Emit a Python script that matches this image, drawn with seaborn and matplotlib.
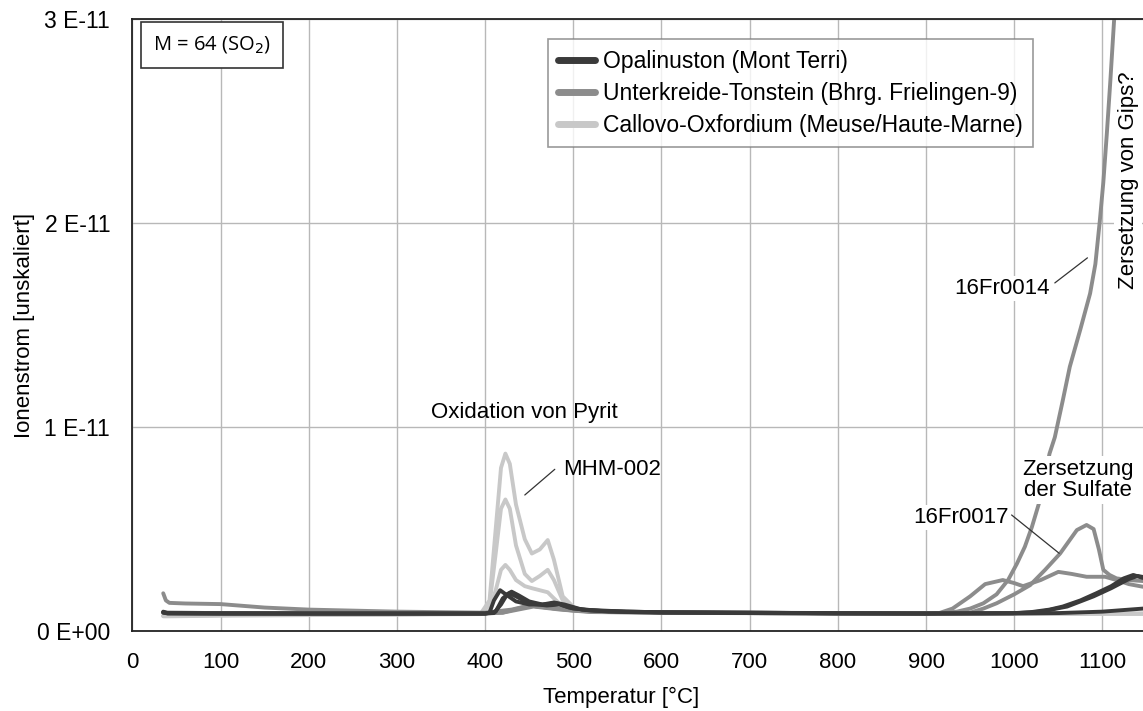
import numpy as np
import pandas as pd
import matplotlib
matplotlib.use("Agg")
import matplotlib.pyplot as plt
from matplotlib.lines import Line2D
import seaborn as sns

# ---------------- data (signal in units of 1E-12) ----------------
# Opalinuston (Mont Terri)
opa1_T = [35, 40, 100, 200, 300, 400, 405, 410, 417, 425, 435, 450, 465, 481, 495, 520, 560, 600, 700, 800, 900, 1000, 1050, 1100, 1146]
opa1_I = [0.95, 0.88, 0.87, 0.86, 0.86, 0.86, 0.9, 1.5, 2.0, 1.75, 1.45, 1.3, 1.3, 1.36, 1.15, 1.0, 0.95, 0.92, 0.9, 0.87, 0.86, 0.86, 0.88, 0.95, 1.1]
opa2_T = [35, 40, 100, 200, 300, 400, 410, 418, 425, 430, 438, 450, 465, 478, 490, 510, 560, 600, 700, 800, 900, 1000, 1018, 1040, 1055, 1075, 1093, 1110, 1124, 1135, 1146]
opa2_I = [0.92, 0.87, 0.86, 0.86, 0.86, 0.86, 0.88, 1.3, 1.8, 1.93, 1.75, 1.45, 1.3, 1.4, 1.3, 1.05, 0.95, 0.92, 0.9, 0.87, 0.86, 0.88, 0.92, 1.05, 1.2, 1.5, 1.85, 2.2, 2.58, 2.75, 2.6]
opa3_T = [35, 40, 100, 200, 300, 400, 412, 420, 427, 435, 450, 470, 485, 500, 540, 600, 700, 800, 900, 1000, 1030, 1060, 1090, 1110, 1130, 1140, 1146]
opa3_I = [0.9, 0.86, 0.85, 0.85, 0.85, 0.85, 0.95, 1.6, 1.85, 1.7, 1.35, 1.25, 1.3, 1.1, 0.95, 0.9, 0.88, 0.86, 0.85, 0.87, 0.95, 1.2, 1.7, 2.1, 2.55, 2.7, 2.65]

# Unterkreide-Tonstein (Bhrg. Frielingen-9)
ukt14_T = [35, 38, 42, 60, 100, 150, 200, 300, 400, 430, 450, 470, 500, 600, 700, 800, 900, 915, 935, 950, 965, 980, 993, 1003, 1012, 1020, 1029, 1040, 1046, 1055, 1063, 1075, 1086, 1092, 1097, 1101, 1105, 1109, 1114]
ukt14_I = [1.85, 1.5, 1.38, 1.35, 1.32, 1.15, 1.05, 0.95, 0.9, 1.05, 1.25, 1.15, 1.0, 0.92, 0.9, 0.88, 0.87, 0.88, 0.95, 1.1, 1.36, 1.8, 2.5, 3.3, 4.13, 5.1, 6.4, 8.7, 9.5, 11.3, 12.96, 14.8, 16.55, 18.0, 20.1, 22.0, 24.4, 27.0, 30.5]
ukt17_T = [35, 100, 200, 300, 400, 420, 450, 480, 520, 600, 700, 800, 900, 940, 950, 965, 980, 1000, 1018, 1035, 1052, 1071, 1082, 1090, 1096, 1101, 1108, 1116, 1130, 1146]
ukt17_I = [0.9, 0.88, 0.87, 0.87, 0.87, 0.9, 1.25, 1.1, 0.95, 0.9, 0.88, 0.87, 0.87, 0.88, 0.9, 1.1, 1.36, 1.8, 2.25, 3.0, 3.8, 4.95, 5.2, 5.0, 4.0, 3.0, 2.75, 2.58, 2.5, 2.45]
ukt3_T = [35, 100, 200, 300, 400, 420, 455, 485, 520, 600, 700, 800, 900, 915, 930, 950, 967, 987, 1000, 1010, 1030, 1050, 1065, 1082, 1103, 1116, 1130, 1146]
ukt3_I = [0.9, 0.88, 0.87, 0.87, 0.87, 0.9, 1.2, 1.05, 0.93, 0.9, 0.88, 0.87, 0.87, 0.88, 1.1, 1.7, 2.3, 2.5, 2.35, 2.2, 2.5, 2.9, 2.8, 2.66, 2.66, 2.5, 2.3, 2.17]

# Callovo-Oxfordium (Meuse/Haute-Marne)
cox_T = [35, 40, 100, 200, 300, 395, 405, 412, 418, 423, 428, 435, 445, 453, 462, 471, 478, 488, 502, 520, 550, 600, 700, 800, 900, 1000, 1100, 1146]
cox1_I = [0.75, 0.75, 0.78, 0.8, 0.82, 0.85, 1.5, 5.0, 8.0, 8.7, 8.2, 6.2, 4.5, 3.8, 4.0, 4.46, 3.5, 1.7, 1.1, 1.0, 0.95, 0.92, 0.88, 0.85, 0.85, 0.85, 0.85, 0.85]
cox2_I = [0.75, 0.75, 0.78, 0.8, 0.82, 0.85, 1.3, 3.8, 6.0, 6.45, 6.0, 4.2, 2.8, 2.45, 2.7, 3.0, 2.5, 1.5, 1.05, 0.98, 0.94, 0.92, 0.88, 0.85, 0.85, 0.85, 0.85, 0.85]
cox3_I = [0.72, 0.72, 0.75, 0.78, 0.8, 0.83, 1.0, 2.0, 3.0, 3.24, 3.0, 2.5, 2.2, 2.1, 2.0, 1.9, 1.6, 1.2, 1.0, 0.95, 0.92, 0.9, 0.87, 0.85, 0.85, 0.85, 0.85, 0.85]

groups = ["Opalinuston (Mont Terri)",
          "Unterkreide-Tonstein (Bhrg. Frielingen-9)",
          "Callovo-Oxfordium (Meuse/Haute-Marne)"]
group_colors = ["#3a3a3a", "#8c8c8c", "#c8c8c8"]

x_ticks = [0, 100, 200, 300, 400, 500, 600, 700, 800, 900, 1000, 1100]
y_ticks = [0, 1e-11, 2e-11, 3e-11]
y_ticklabels = ["0 E+00", "1 E-11", "2 E-11", "3 E-11"]

samples = [
    (groups[0], "opa1", opa1_T, opa1_I),
    (groups[0], "opa2", opa2_T, opa2_I),
    (groups[0], "opa3", opa3_T, opa3_I),
    (groups[1], "16Fr0014", ukt14_T, ukt14_I),
    (groups[1], "16Fr0017", ukt17_T, ukt17_I),
    (groups[1], "ukt3", ukt3_T, ukt3_I),
    (groups[2], "MHM-002", cox_T, cox1_I),
    (groups[2], "cox2", cox_T, cox2_I),
    (groups[2], "cox3", cox_T, cox3_I),
]
rows = []
for g, s, T, I in samples:
    for t, v in zip(T, I):
        rows.append({"group": g, "sample": s, "T": t, "I": v * 1e-12})
df = pd.DataFrame(rows)

# ---------------- plot ----------------
sns.set_style("white")
plt.rcParams["font.family"] = ["Liberation Sans", "DejaVu Sans"]
plt.rcParams["text.color"] = "black"
plt.rcParams["axes.labelcolor"] = "black"
plt.rcParams["xtick.color"] = "black"
plt.rcParams["ytick.color"] = "black"

fig = plt.figure(figsize=(11.43, 7.11), dpi=100)
ax = fig.add_axes([0.1158, 0.1125, 0.8842, 0.8604])

for g, c in reversed(list(zip(groups, group_colors))):
    sns.lineplot(data=df[df["group"] == g], x="T", y="I", units="sample",
                 estimator=None, color=c, lw=2.8, ax=ax, legend=False,
                 solid_joinstyle="round", solid_capstyle="round")

ax.set_xlim(0, 1146)
ax.set_ylim(0, 3e-11)
ax.set_xticks(x_ticks)
ax.set_xticklabels([str(v) for v in x_ticks])
ax.set_yticks(y_ticks)
ax.set_yticklabels(y_ticklabels)
ax.grid(True, color="#b8b8b8", lw=1.0)
ax.set_axisbelow(True)
for side in ["left", "bottom", "top"]:
    ax.spines[side].set_color("#222222")
    ax.spines[side].set_linewidth(1.3)
ax.spines["right"].set_visible(False)
ax.tick_params(axis="both", direction="out", length=5, width=1, color="#555555")
ax.tick_params(axis="x", pad=10, labelsize=16)
ax.tick_params(axis="y", pad=11, labelsize=16.5)
ax.set_xlabel("Temperatur [°C]", fontsize=16)
ax.set_ylabel("Ionenstrom [unskaliert]", fontsize=16)
ax.xaxis.set_label_coords(0.4835, -0.092)
ax.yaxis.set_label_coords(-0.0965, 0.5)

# legend
handles = [Line2D([0], [0], color=c, lw=5, solid_capstyle="round") for c in group_colors]
leg = ax.legend(handles, groups, loc="upper left", bbox_to_anchor=(0.4113, 0.967),
                fontsize=16.5, frameon=True, fancybox=False, handlelength=1.6,
                handletextpad=0.35, labelspacing=0.4, borderpad=0.45, borderaxespad=0)
leg.get_frame().set_edgecolor("#808080")
leg.get_frame().set_linewidth(1.2)

# formula box
ax.text(0.0202, 0.958, "M = 64 (SO$_2$)", transform=ax.transAxes, fontsize=14.5,
        family="Open Sans", va="center", ha="left",
        bbox=dict(boxstyle="square,pad=0.6", fc="white", ec="#333333", lw=1.2))

# annotations
fs = 16
ax.text(445, 10.7e-12, "Oxidation von Pyrit", fontsize=fs, ha="center", va="center")
ax.text(488, 7.9e-12, "MHM-002", fontsize=fs, ha="left", va="center")
ax.plot([479, 445], [7.93e-12, 6.67e-12], color="#333333", lw=0.9)

ax.text(1040, 16.8e-12, "16Fr0014", fontsize=fs, ha="right", va="center",
        bbox=dict(boxstyle="square,pad=0.1", fc="white", ec="none"))
ax.plot([1046, 1083], [17.07e-12, 18.3e-12], color="#333333", lw=0.9)

ax.text(1129, 22.1e-12, "Zersetzung von Gips?", fontsize=fs, rotation=90,
        ha="center", va="center",
        bbox=dict(boxstyle="square,pad=0.15", fc="white", ec="none"))

ax.text(1072, 7.4e-12, "Zersetzung\nder Sulfate", fontsize=fs, ha="center", va="center",
        linespacing=1.0, bbox=dict(boxstyle="square,pad=0.15", fc="white", ec="none"))

ax.text(940, 5.57e-12, "16Fr0017", fontsize=fs, ha="center", va="center",
        bbox=dict(boxstyle="square,pad=0.1", fc="white", ec="none"))
ax.plot([997, 1051], [5.69e-12, 3.81e-12], color="#333333", lw=0.9)

fig.savefig("out.png", dpi=100, facecolor="white")
